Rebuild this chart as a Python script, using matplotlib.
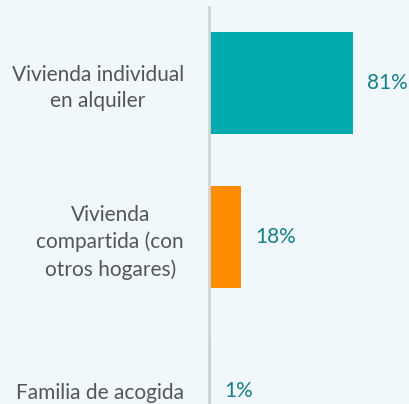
import matplotlib
matplotlib.use("Agg")
import matplotlib.pyplot as plt

categories = ["Vivienda individual\nen alquiler", "Vivienda\ncompartida (con\notros hogares)", "Familia de acogida"]
values = [81, 18, 1]
value_labels = ["81%", "18%", "1%"]
colors = ["#00aaad", "#ff8c00", "#00aaad"]

bg = "#f1f8fb"
fig = plt.figure(figsize=(4.09, 4.04), dpi=100, facecolor=bg)
ax = fig.add_axes([209/409, 0, 178/409, 397/404])
ax.set_facecolor(bg)

pos = list(range(len(categories)))
ax.barh(pos, values, height=0.66, color=colors, zorder=2)
ax.set_xlim(0, 100)
ax.set_ylim(2.084, -0.494)

for p, v, lab in zip(pos, values, value_labels):
    ax.annotate(lab, (v, p), xytext=(10, 0), textcoords="offset points",
                va="center", ha="left", color="#1a8088", fontsize=15, family="Lato")

ax.set_yticks(pos)
ax.set_yticklabels(categories, fontsize=15, color="#555555", family="Lato")
for t in ax.get_yticklabels():
    t.set_multialignment("center")
    t.set_linespacing(1.4)
ax.tick_params(axis="y", length=0, pad=18)
ax.set_xticks([])
for s in ["top", "right", "bottom"]:
    ax.spines[s].set_visible(False)
ax.spines["left"].set_color("#d3d3d3")
ax.spines["left"].set_linewidth(2)
ax.spines["left"].set_zorder(3)

fig.savefig("out.png", dpi=100, facecolor=bg)
